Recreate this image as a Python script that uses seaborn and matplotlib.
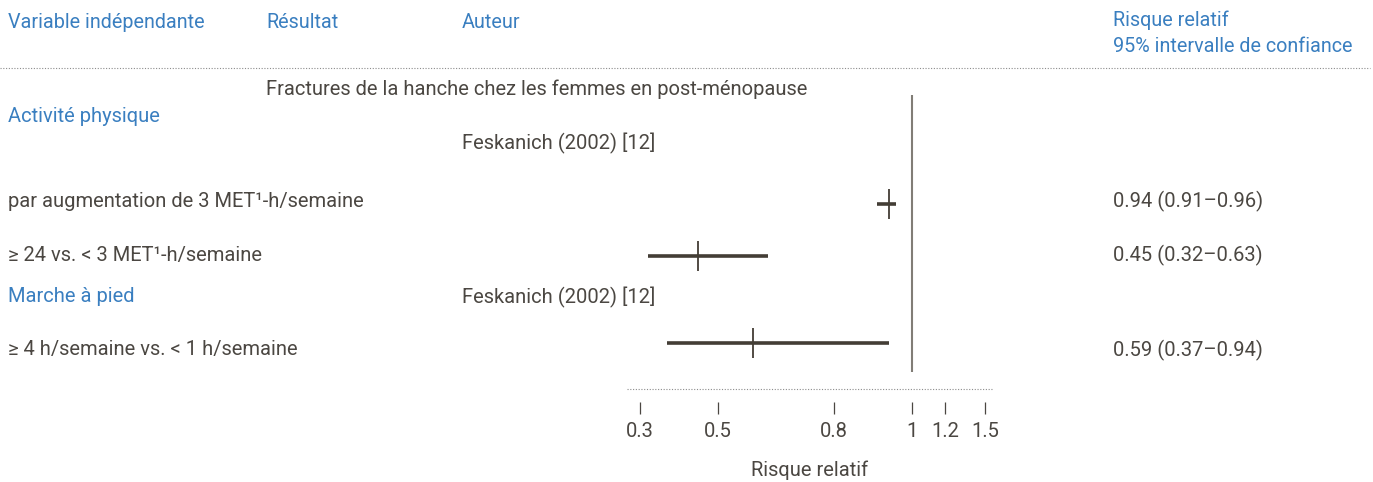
import numpy as np
import pandas as pd
import matplotlib
matplotlib.use("Agg")
import matplotlib.pyplot as plt
import seaborn as sns
from matplotlib.lines import Line2D

# ---------------- data ----------------
headers = ["Variable indépendante", "Résultat", "Auteur"]
header_right = ["Risque relatif", "95% intervalle de confiance"]
outcome = "Fractures de la hanche chez les femmes en post-ménopause"
groups = ["Activité physique", "Marche à pied"]
authors = ["Feskanich (2002) [12]", "Feskanich (2002) [12]"]
comparisons = ["par augmentation de 3 MET\u00b9-h/semaine",
               "\u2265 24 vs. < 3 MET\u00b9-h/semaine",
               "\u2265 4 h/semaine vs. < 1 h/semaine"]
rr = [0.94, 0.45, 0.59]
ci_low = [0.91, 0.32, 0.37]
ci_high = [0.96, 0.63, 0.94]
tick_values = [0.3, 0.5, 0.8, 1, 1.2, 1.5]
tick_labels = ["0.3", "0.5", "0.8", "1", "1.2", "1.5"]
xlabel = "Risque relatif"

df = pd.DataFrame({"comparison": comparisons, "rr": rr,
                   "lo": ci_low, "hi": ci_high})

# ---------------- layout (pixel rows) ----------------
W, H = 1373, 482
row_y = [204, 255.5, 343]
BLUE = "#3a7fc0"
TXT = "#4b4742"
BAR = "#433d35"
REF = "#817d76"

sns.set_theme(style="white")
plt.rcParams["font.family"] = ["Roboto", "DejaVu Sans"]

fig = plt.figure(figsize=(W / 100, H / 100), dpi=100)

def fx(px):
    return px / W

def fy(py):
    return 1 - py / H

ax_left, ax_right, ax_top, ax_bot = 627, 993, 60, 414
ax = fig.add_axes([fx(ax_left), fy(ax_bot), fx(ax_right - ax_left),
                   (ax_bot - ax_top) / H])

k = 0.466

def fwd(x):
    x = np.asarray(x, dtype=float)
    with np.errstate(divide="ignore", invalid="ignore"):
        return np.where(x < 1, x, 1 + k * np.log(np.maximum(x, 1e-12)))

def inv(y):
    y = np.asarray(y, dtype=float)
    with np.errstate(over="ignore"):
        return np.where(y < 1, y, np.exp((y - 1) / k))

ax.set_xscale("function", functions=(fwd, inv))
ax.set_xlim(0.2665, 1.564)
ax.set_ylim(ax_bot, ax_top)
df["y"] = row_y

# CI bars
ax.hlines(df["y"], df["lo"], df["hi"], color=BAR, lw=2.6, zorder=3)
# point estimates
sns.scatterplot(data=df, x="rr", y="y", marker="|", s=480, color=BAR,
                linewidth=1.3, ax=ax, zorder=4, legend=False)
# reference line
ax.vlines(1, 95, 372, color=REF, lw=1.5, zorder=2)
# dotted axis line
ax.hlines(389, 0.2665, 1.564, color="#8c8c8c", lw=0.8,
          linestyles=(0, (1, 1.5)), clip_on=False)

for s in ax.spines.values():
    s.set_visible(False)
ax.set_yticks([])
ax.set_xticks(tick_values)
ax.set_xticklabels(tick_labels)
ax.xaxis.set_minor_locator(matplotlib.ticker.NullLocator())
ax.tick_params(axis="x", direction="in", length=9, width=0.9, colors=TXT,
               labelsize=14.5, pad=6, bottom=True)
ax.set_xlabel(xlabel, fontsize=14.5, color=TXT, labelpad=14)
ax.set_ylabel("")
ax.patch.set_alpha(0)

# ---------------- texts ----------------
hs = 14.2
fs = 14.5
fig.text(fx(8), fy(22), headers[0], color=BLUE, fontsize=hs, va="center")
fig.text(fx(266), fy(22), headers[1], color=BLUE, fontsize=hs, va="center")
fig.text(fx(462), fy(22), headers[2], color=BLUE, fontsize=hs, va="center")
fig.text(fx(1113), fy(20), header_right[0], color=BLUE, fontsize=hs, va="center")
fig.text(fx(1113), fy(47), header_right[1], color=BLUE, fontsize=hs, va="center")

fig.add_artist(Line2D([fx(0), fx(1370)], [fy(67.5), fy(67.5)], color="#8c8c8c",
                      lw=0.8, linestyle=(0, (1, 1.5)), transform=fig.transFigure))

fig.text(fx(266), fy(89), outcome, color=TXT, fontsize=fs, va="center")
fig.text(fx(8), fy(116), groups[0], color=BLUE, fontsize=fs, va="center")
fig.text(fx(462), fy(143), authors[0], color=TXT, fontsize=fs, va="center")
fig.text(fx(8), fy(297), groups[1], color=BLUE, fontsize=fs, va="center")
fig.text(fx(462), fy(297), authors[1], color=TXT, fontsize=fs, va="center")

label_y = [201, 255, 350]
for i, row in df.iterrows():
    fig.text(fx(8), fy(label_y[i]), row["comparison"], color=TXT,
             fontsize=fs, va="center")
    fig.text(fx(1113), fy(label_y[i]),
             f"{row['rr']:.2f} ({row['lo']:.2f}\u2013{row['hi']:.2f})",
             color=TXT, fontsize=fs, va="center")

fig.savefig("out.png", dpi=100)
